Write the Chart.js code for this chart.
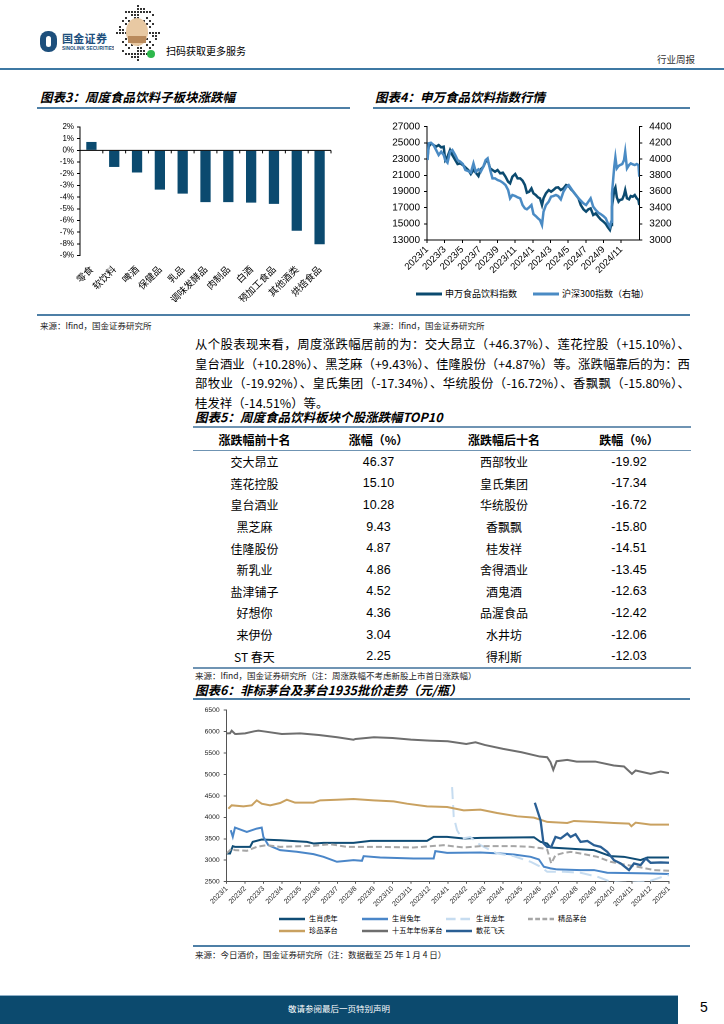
<!DOCTYPE html>
<html><head><meta charset="utf-8">
<script src="https://cdn.jsdelivr.net/npm/chart.js@4.4.1/dist/chart.umd.min.js"></script>
<style>
body{margin:0;width:724px;height:1024px;position:relative;background:#fff;font-family:"Noto Sans CJK SC","Liberation Sans",sans-serif;color:#000;overflow:hidden}
.abs{position:absolute}
.title{position:absolute;font-weight:bold;font-style:italic;font-size:12.5px;white-space:nowrap;line-height:1}
.rule{position:absolute;height:2px;background:#4e7fa6}
.src{position:absolute;font-size:8.5px;color:#222;white-space:nowrap;line-height:1}
.para{position:absolute;left:195px;width:495px;font-size:12.4px;line-height:19.7px;white-space:nowrap}
.para div{text-align:justify;text-align-last:justify;height:19.7px}
.para div.last{text-align-last:left}
table{position:absolute;left:193px;top:426px;width:498px;border-collapse:collapse;font-size:12px}
td,th{text-align:center;padding:0;white-space:nowrap}
th{height:22px;font-weight:bold;border-bottom:1.5px solid #6f94b3}
td{height:21.6px}
table{border-top:2.5px solid #6f94b3;border-bottom:2.5px solid #6f94b3}
.num{font-family:"Liberation Sans",sans-serif;font-size:12.5px}
canvas{position:absolute}
.lg{position:absolute;font-size:7.2px;white-space:nowrap;line-height:1;display:flex;align-items:center}
.lg svg{margin-right:4px}
.lg4{position:absolute;font-size:9px;white-space:nowrap;line-height:1;display:flex;align-items:center}
.lg4 svg{margin-right:3px}
</style></head><body>

<!-- header -->
<div class="abs" style="left:40px;top:31px;width:17px;height:21px;background:#1d4f7c;border-radius:8px"></div>
<div class="abs" style="left:46px;top:36px;width:5px;height:11px;background:#fff;border-radius:3px"></div>
<div class="abs" style="left:62px;top:33px;font-size:11px;font-weight:bold;color:#1d4f7c;line-height:1;letter-spacing:0.3px">国金证券</div>
<div class="abs" style="left:62px;top:47px;font-size:4.8px;font-weight:bold;color:#1d4f7c;line-height:1;font-family:'Liberation Sans'">SINOLINK SECURITIES</div>
<canvas id="qr" width="46" height="58" style="left:114px;top:4px;width:46px;height:58px"></canvas>
<div class="abs" style="left:166px;top:46px;font-size:10px;line-height:1">扫码获取更多服务</div>
<div class="abs" style="left:657px;top:55px;font-size:9.5px;line-height:1;color:#333">行业周报</div>
<div class="abs" style="left:0;top:68px;width:724px;height:2px;background:#3d78a3"></div>

<!-- chart 3 & 4 titles -->
<div class="title" style="left:40px;top:91px">图表3：周度食品饮料子板块涨跌幅</div>
<div class="rule" style="left:37px;top:107px;width:313px"></div>
<div class="title" style="left:375px;top:91px">图表4：申万食品饮料指数行情</div>
<div class="rule" style="left:373px;top:107px;width:317px"></div>

<canvas id="c3" style="left:37px;top:112px;width:300px;height:190px"></canvas>
<canvas id="c4" style="left:362px;top:112px;width:328px;height:172px"></canvas>

<div class="lg4" style="left:416px;top:289px"><svg width="26" height="4"><line x1="0" y1="2" x2="26" y2="2" stroke="#0b4a6f" stroke-width="3"/></svg>申万食品饮料指数</div>
<div class="lg4" style="left:533px;top:289px"><svg width="26" height="4"><line x1="0" y1="2" x2="26" y2="2" stroke="#4a8bc4" stroke-width="3"/></svg>沪深300指数（右轴）</div>

<div class="abs" style="left:37px;top:314px;width:653px;height:1.5px;background:#4e7fa6"></div>
<div class="src" style="left:40px;top:321px">来源：Ifind，国金证券研究所</div>
<div class="src" style="left:373px;top:321px">来源：Ifind，国金证券研究所</div>

<div class="para" style="top:335px">
<div>从个股表现来看，周度涨跌幅居前的为：交大昂立（+46.37%）、莲花控股（+15.10%）、</div>
<div>皇台酒业（+10.28%）、黑芝麻（+9.43%）、佳隆股份（+4.87%）等。涨跌幅靠后的为：西</div>
<div>部牧业（-19.92%）、皇氏集团（-17.34%）、华统股份（-16.72%）、香飘飘（-15.80%）、</div>
<div class="last">桂发祥（-14.51%）等。</div>
</div>

<div class="title" style="left:195px;top:411px">图表5：周度食品饮料板块个股涨跌幅TOP10</div>
<table id="tbl">
<colgroup><col style="width:123px"><col style="width:125px"><col style="width:126px"><col style="width:124px"></colgroup>
<thead><tr><th>涨跌幅前十名</th><th>涨幅（%）</th><th>涨跌幅后十名</th><th>跌幅（%）</th></tr></thead>
<tbody></tbody>
</table>
<div class="src" style="left:195px;top:671px">来源：Ifind，国金证券研究所（注：周涨跌幅不考虑新股上市首日涨跌幅）</div>

<div class="title" style="left:195px;top:684px">图表6：非标茅台及茅台1935批价走势（元/瓶）</div>
<div class="rule" style="left:193px;top:698px;width:497px"></div>
<canvas id="c6" style="left:188px;top:702px;width:492px;height:210px"></canvas>
<div id="lg6"></div>
<div class="abs" style="left:193px;top:945px;width:497px;height:1.5px;background:#4e7fa6"></div>
<div class="src" style="left:195px;top:950px">来源：今日酒价，国金证券研究所（注：数据截至 25 年 1 月 4 日）</div>

<!-- footer -->
<div class="abs" style="left:0;top:995px;width:678px;height:28px;background:#0c4a6e;border-top:1px solid #8fb0c8"></div>
<div class="abs" style="left:0;top:1004px;width:678px;text-align:center;color:#fff;font-size:8.5px;line-height:1">敬请参阅最后一页特别声明</div>
<div class="abs" style="left:700px;top:1000px;font-size:14px;line-height:1;font-family:'Liberation Sans'">5</div>

<script>
// ---------- Chart 3 data ----------
const cats3 = ['零食','软饮料','啤酒','保健品','乳品','调味发酵品','肉制品','白酒','预加工食品','其他酒类','烘焙食品'];
const vals3 = [0.72,-1.42,-1.90,-3.36,-3.70,-4.43,-4.43,-4.47,-4.58,-6.88,-8.04];

// ---------- Chart 4 data ----------
const dates4 = ['2023-01-03','2023-01-07','2023-01-15','2023-01-24','2023-02-02','2023-02-10','2023-02-18','2023-02-26','2023-03-03','2023-03-11','2023-03-20','2023-03-28','2023-04-07','2023-04-15','2023-04-24','2023-05-03','2023-05-12','2023-05-22','2023-05-31','2023-06-09','2023-06-17','2023-06-26','2023-07-04','2023-07-13','2023-07-21','2023-07-28','2023-08-06','2023-08-14','2023-08-23','2023-09-01','2023-09-10','2023-09-19','2023-09-28','2023-10-07','2023-10-14','2023-10-22','2023-11-01','2023-11-09','2023-11-18','2023-11-26','2023-12-04','2023-12-11','2023-12-19','2023-12-27','2024-01-03','2024-01-11','2024-01-19','2024-01-26','2024-02-02','2024-02-07','2024-02-15','2024-02-24','2024-03-03','2024-03-11','2024-03-20','2024-03-28','2024-04-06','2024-04-15','2024-04-24','2024-05-03','2024-05-11','2024-05-19','2024-05-28','2024-06-06','2024-06-14','2024-06-23','2024-07-02','2024-07-10','2024-07-18','2024-07-27','2024-08-05','2024-08-14','2024-08-22','2024-09-01','2024-09-09','2024-09-16','2024-09-23','2024-09-27','2024-09-30','2024-10-08','2024-10-12','2024-10-17','2024-10-23','2024-10-28','2024-11-05','2024-11-11','2024-11-15','2024-11-21','2024-11-28','2024-12-04','2024-12-11','2024-12-18','2024-12-25','2024-12-31','2025-01-03'];
const swFood = [23300,24530,24940,24735,24530,24735,24450,24530,22880,23300,24120,23500,22880,22390,22470,22265,21975,21650,21150,21650,21320,20905,21730,22060,22680,22880,21850,21650,21440,21650,21235,21320,20820,20205,20000,20820,21150,20620,20620,20330,19795,18850,18970,19380,18765,18560,18270,18150,17320,18150,18765,19175,18970,19175,19465,19505,19175,19380,19795,19670,19260,18970,18560,18150,17320,16790,16500,16790,16910,16090,16295,15880,15550,15265,14975,14565,14235,14850,17115,19175,19505,18270,17735,17940,18020,18560,19175,18150,18020,18435,18350,18560,18150,17940,17320];
const hs300 = [3988,4194,4202,4174,4112,4050,4091,4050,3988,3955,4091,4112,4050,3988,3968,3939,3865,3852,3832,3947,3844,3873,3844,3906,3988,4009,3865,3762,3762,3741,3729,3708,3679,3618,3515,3556,3543,3527,3515,3432,3391,3379,3403,3432,3321,3296,3268,3247,3185,3350,3432,3473,3535,3543,3556,3543,3502,3597,3651,3679,3638,3597,3556,3515,3486,3453,3432,3473,3515,3412,3370,3338,3321,3296,3268,3206,3165,3226,3576,3906,4021,3885,3914,3926,3939,3988,4091,3885,3926,3947,3935,3926,3939,3926,3782];
const ticks4 = ['2023/1','2023/3','2023/5','2023/7','2023/9','2023/11','2024/1','2024/3','2024/5','2024/7','2024/9','2024/11'];

// ---------- Table data ----------
const topNames = ['交大昂立','莲花控股','皇台酒业','黑芝麻','佳隆股份','新乳业','盐津铺子','好想你','来伊份','ST 春天'];
const topVals = ['46.37','15.10','10.28','9.43','4.87','4.86','4.52','4.36','3.04','2.25'];
const botNames = ['西部牧业','皇氏集团','华统股份','香飘飘','桂发祥','舍得酒业','酒鬼酒','品渥食品','水井坊','得利斯'];
const botVals = ['-19.92','-17.34','-16.72','-15.80','-14.51','-13.45','-12.63','-12.42','-12.06','-12.03'];

// ---------- Chart 6 data (months since 2023/1, price) ----------
const ticks6 = ['2023/1','2023/2','2023/3','2023/4','2023/5','2023/6','2023/7','2023/8','2023/9','2023/10','2023/11','2023/12','2024/1','2024/2','2024/3','2024/4','2024/5','2024/6','2024/7','2024/8','2024/9','2024/10','2024/11','2024/12','2025/1'];
const tiger = [[0,3158],[0.18,3158],[0.33,3328],[0.45,3312],[1.27,3312],[1.41,3428],[1.90,3483],[2.90,3467],[4.35,3428],[4.71,3390],[5.25,3405],[6.88,3405],[7.79,3452],[10.87,3452],[11.23,3544],[11.96,3544],[12.86,3506],[13.77,3521],[16.67,3537],[17.03,3428],[17.39,3390],[17.57,3297],[18.48,3274],[19.93,3235],[20.83,3096],[21.56,3080],[22.46,3003],[22.83,3065],[24.0,3065]];
const rabbit = [[0.22,3700],[0.33,3545],[0.45,3761],[1.09,3660],[1.63,3738],[1.90,3761],[1.99,3545],[2.26,3351],[2.90,3235],[3.80,3197],[4.71,3142],[5.25,3080],[5.98,2964],[6.88,3003],[7.34,2988],[7.43,3096],[8.33,3065],[10.14,3042],[11.23,3042],[11.32,3212],[11.96,3173],[13.77,3181],[14.86,3158],[15.58,3135],[16.49,3080],[16.94,3018],[17.21,2848],[17.57,2810],[17.93,2786],[19.2,2771],[19.93,2771],[20.65,2709],[22.83,2693],[24.0,2678]];
const dragon = [[12.23,4705],[12.32,4009],[12.5,3700],[12.77,3506],[13.22,3540],[13.77,3351],[14.67,3158],[15.58,3096],[16.49,2964],[17.03,2848],[17.39,2732],[18.3,2732],[19.2,2709],[20.11,2616],[20.83,2500],[21.56,2480],[22.83,2500],[23.55,2601],[24.0,2655]];
const jingpin = [[0,3158],[0.27,3274],[0.45,3235],[1.09,3220],[1.63,3312],[2.17,3351],[2.90,3312],[4.71,3336],[5.62,3374],[6.52,3312],[8.33,3312],[10.14,3297],[11.78,3351],[12.86,3297],[13.77,3328],[15.58,3328],[16.49,3312],[17.21,3274],[17.39,3250],[17.61,2925],[17.84,3119],[18.3,3173],[18.66,3196],[19.2,3158],[20.11,3080],[20.83,2964],[21.56,2902],[22.28,2848],[23.19,2771],[24.0,2755]];
const zhenpin = [[0.09,4202],[0.27,4280],[0.91,4256],[1.36,4280],[1.63,4396],[1.90,4318],[2.36,4280],[2.90,4334],[3.26,4411],[3.71,4342],[4.71,4342],[5.07,4396],[5.98,4411],[6.88,4427],[7.97,4396],[9.06,4372],[9.78,4318],[10.87,4256],[11.96,4241],[12.86,4163],[13.77,4179],[14.67,4102],[15.76,4024],[16.67,3993],[17.39,3893],[18.48,3869],[18.84,3916],[19.93,3893],[21.01,3869],[21.83,3854],[21.96,3792],[22.19,3877],[23.0,3831],[24.0,3831]];
const year15 = [[0,5958],[0.18,5960],[0.27,6020],[0.45,5945],[0.51,5943],[1.0,5958],[1.49,6005],[1.72,6020],[1.99,6005],[2.99,5943],[3.99,5958],[5.0,5920],[6.0,5866],[6.88,5810],[6.99,5827],[7.99,5866],[9.0,5850],[10.0,5811],[11.0,5788],[11.99,5773],[13.0,5711],[13.5,5750],[14.0,5688],[15.0,5595],[16.0,5517],[16.99,5417],[17.39,5401],[17.57,5285],[17.72,5107],[17.9,5308],[18.48,5340],[18.99,5300],[20.0,5300],[21.0,5208],[21.56,5185],[21.99,5014],[22.19,5092],[23.0,5014],[23.55,5069],[24.0,5030]];
const sanhua = [[16.72,4341],[17.03,3931],[17.19,3397],[17.39,3312],[17.61,3312],[17.84,3544],[18.12,3506],[18.48,3622],[18.66,3544],[18.93,3606],[19.2,3428],[19.57,3450],[19.93,3351],[20.29,3312],[20.65,3196],[21.01,3003],[21.38,2925],[21.83,2771],[22.1,2925],[22.46,2887],[22.74,3042],[23.0,2941],[23.55,2949],[24.0,2941]];

const CJK = '"Noto Sans CJK SC"';
const LAT = '"Liberation Sans"';

// ---------- table ----------
const tb = document.querySelector('#tbl tbody');
topNames.forEach((n,i)=>{
  const tr=document.createElement('tr');
  tr.innerHTML=`<td>${n}</td><td class="num">${topVals[i]}</td><td>${botNames[i]}</td><td class="num">${botVals[i]}</td>`;
  tb.appendChild(tr);
});

// ---------- QR placeholder ----------
(function(){
  const c=document.getElementById('qr').getContext('2d');
  c.fillStyle='#fff';c.fillRect(0,0,46,58);
  c.fillStyle='#333';
  for(let i=0;i<15;i++)for(let j=0;j<19;j++){
    const h=(i*37+j*91+i*j*13)%7;
    const dx=i-7,dy=j-9;
    if(dx*dx/49+dy*dy/81>1) continue;
    if(h<3) c.fillRect(2+i*3,1+j*3,2,2);
  }
  c.fillStyle='#e8c9a3';c.beginPath();c.ellipse(23,28,11,14,0,0,Math.PI*2);c.fill();
  c.fillStyle='#b98a5c';c.fillRect(14,32,18,7);
  c.fillStyle='#2db84c';c.beginPath();c.arc(37,50,4,0,Math.PI*2);c.fill();
})();

function monthIdx(s){
  const p=s.split(/[-\/]/).map(Number);
  const y=p[0],m=p[1],d=p[2]||1;
  return (y-2023)*12+(m-1)+(d-1)/new Date(y,m,0).getDate();
}
Chart.defaults.font.family = LAT+','+CJK;
Chart.defaults.color = '#000';

// ---------- Chart 3 ----------
const zeroLine = {
  id:'zeroLine',
  afterDatasetsDraw(ch){
    const {ctx,chartArea:a,scales:{x,y}}=ch;
    const y0=y.getPixelForValue(0);
    ctx.save();ctx.strokeStyle='#000';ctx.lineWidth=1;
    ctx.beginPath();ctx.moveTo(a.left,y0);ctx.lineTo(a.right,y0);
    const n=x.ticks.length;
    for(let i=1;i<=n;i++){const px=x.left+i*(x.width/n);ctx.moveTo(px,y0);ctx.lineTo(px,y0+3);}
    ctx.stroke();ctx.restore();
  }
};
function setupCanvas(id,w,h){const c=document.getElementById(id);c.width=w;c.height=h;return c;}
new Chart(setupCanvas('c3',300,190),{
  type:'bar',
  data:{labels:cats3,datasets:[{data:vals3,backgroundColor:'#0b4a6f',barPercentage:0.45,categoryPercentage:1}]},
  options:{responsive:false,animation:false,devicePixelRatio:2,
    plugins:{legend:{display:false},tooltip:{enabled:false}},
    layout:{padding:{top:15,right:6,left:0,bottom:0}},
    scales:{
      x:{grid:{display:false},border:{display:false},
         ticks:{autoSkip:false,maxRotation:45,minRotation:45,font:{size:9.5,family:CJK},padding:0},
         afterFit(s){s.height=46.5;}},
      y:{min:-9,max:2,
         ticks:{stepSize:1,autoSkip:false,callback:v=>v+'%',font:{size:8,family:LAT},padding:3},
         grid:{drawOnChartArea:false,tickLength:3,color:'#000'},border:{color:'#000'},
         afterFit(s){s.width=43;}}
    }},
  plugins:[zeroLine]
});

// ---------- Chart 4 ----------
const pts = (dates,vals)=>dates.map((d,i)=>({x:monthIdx(d),y:vals[i]}));
new Chart(setupCanvas('c4',328,172),{
  type:'line',
  data:{datasets:[
    {label:'申万食品饮料指数',data:pts(dates4,swFood),borderColor:'#0b4a6f',borderWidth:2.5,pointRadius:0,yAxisID:'y',order:2},
    {label:'沪深300指数（右轴）',data:pts(dates4,hs300),borderColor:'#4a8bc4',borderWidth:2.5,pointRadius:0,yAxisID:'y1',order:1}
  ]},
  options:{responsive:false,animation:false,devicePixelRatio:2,
    plugins:{legend:{display:false},tooltip:{enabled:false}},
    layout:{padding:{top:14.7,right:0,left:0,bottom:0}},
    scales:{
      x:{type:'linear',min:0,max:monthIdx(dates4[dates4.length-1]),
         afterBuildTicks(s){s.ticks=ticks4.map(t=>({value:monthIdx(t)}));},
         ticks:{autoSkip:false,maxRotation:45,minRotation:45,font:{size:9.5,family:LAT},padding:1,
                callback:(v)=>{const i=ticks4.findIndex(t=>Math.abs(monthIdx(t)-v)<1e-6);return i>=0?ticks4[i]:'';}},
         grid:{drawOnChartArea:false,tickLength:3,color:'#000'},border:{color:'#000'},
         afterFit(s){s.height=44;}},
      y:{position:'left',min:13000,max:27000,ticks:{stepSize:2000,autoSkip:false,callback:v=>String(v),font:{size:10,family:LAT},padding:4},
         grid:{drawOnChartArea:false,tickLength:3,color:'#000'},border:{color:'#000'},afterFit(s){s.width=65;}},
      y1:{position:'right',min:3000,max:4400,ticks:{stepSize:200,autoSkip:false,callback:v=>String(v),font:{size:10,family:LAT},padding:7},
         grid:{drawOnChartArea:false,tickLength:3,color:'#000'},border:{color:'#000'},afterFit(s){s.width=50.7;}}
    }}
});

// ---------- Chart 6 ----------
const series6 = [
  {label:'生肖虎年',data:tiger,color:'#0f4c75',dash:[],w:2},
  {label:'生肖兔年',data:rabbit,color:'#4a86c8',dash:[],w:2},
  {label:'生肖龙年',data:dragon,color:'#c6dcf0',dash:[12,6],w:2},
  {label:'精品茅台',data:jingpin,color:'#a6a6a6',dash:[6,3],w:2},
  {label:'珍品茅台',data:zhenpin,color:'#c9a160',dash:[],w:2},
  {label:'十五年年份茅台',data:year15,color:'#6e6e6e',dash:[],w:2},
  {label:'散花飞天',data:sanhua,color:'#2a5f94',dash:[],w:2.3}
];
new Chart(setupCanvas('c6',492,210),{
  type:'line',
  data:{datasets:series6.map((s,i)=>({label:s.label,data:s.data.map(p=>({x:p[0],y:p[1]})),borderColor:s.color,borderDash:s.dash,borderWidth:s.w,pointRadius:0,order:7-i}))},
  options:{responsive:false,animation:false,devicePixelRatio:2,
    plugins:{legend:{display:false},tooltip:{enabled:false}},
    layout:{padding:{top:7.3,right:11,left:0,bottom:0}},
    scales:{
      x:{type:'linear',min:0,max:24,
         afterBuildTicks(s){s.ticks=ticks6.map(t=>({value:monthIdx(t)}));},
         ticks:{autoSkip:false,maxRotation:45,minRotation:45,font:{size:7,family:LAT},padding:1,color:'#222',
                callback:(v)=>{const i=ticks6.findIndex(t=>Math.abs(monthIdx(t)-v)<1e-6);return i>=0?ticks6[i]:'';}},
         grid:{drawOnChartArea:false,tickLength:2,color:'#555'},border:{color:'#555'},
         afterFit(s){s.height=30.3;}},
      y:{min:2500,max:6500,ticks:{stepSize:500,autoSkip:false,callback:v=>String(v),font:{size:6.8,family:LAT},padding:4,color:'#222'},
         grid:{drawOnChartArea:false,tickLength:3,color:'#555'},border:{color:'#555'},afterFit(s){s.width=38.7;}}
    }}
});

// legend 6
const lgPos = [[279,915],[362,915],[446,915],[528,915],[279,927],[362,927],[446,927]];
const lg6 = document.getElementById('lg6');
series6.forEach((s,i)=>{
  const d=document.createElement('div');d.className='lg';
  d.style.left=lgPos[i][0]+'px';d.style.top=lgPos[i][1]+'px';
  const da=s.dash.length?`stroke-dasharray="${s.dash.map(v=>v*0.8).join(',')}"`:'';
  d.innerHTML=`<svg width="26" height="8"><line x1="0" y1="4" x2="26" y2="4" stroke="${s.color}" stroke-width="2.5" ${da}/></svg>${s.label}`;
  lg6.appendChild(d);
});
</script>
</body></html>
